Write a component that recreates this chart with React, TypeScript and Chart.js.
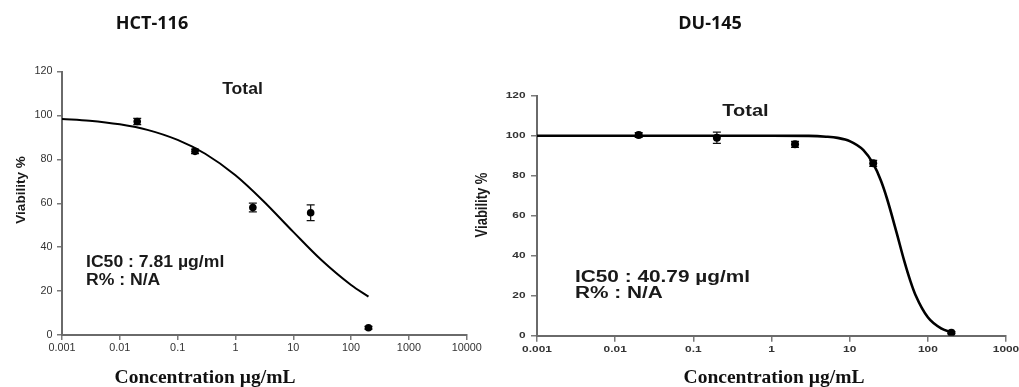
import React, { useEffect, useRef } from 'react';
import { Chart, registerables } from 'chart.js';

Chart.register(...registerables);

// ---------- Data ----------
const Y_TICKS = [0, 20, 40, 60, 80, 100, 120];

// HCT-116
const HCT_X_TICKS = [0.001, 0.01, 0.1, 1, 10, 100, 1000, 10000];
const HCT_X_LABELS = ['0.001', '0.01', '0.1', '1', '10', '100', '1000', '10000'];
const HCT_CONC = [0.02, 0.2, 2, 20, 200];
const HCT_VIAB = [97.3, 83.7, 58.1, 55.7, 3.3];
const HCT_ERR = [1.4, 1.0, 2.0, 3.6, 0.6];
const HCT_FIT_X = [0.001, 0.003, 0.01, 0.03, 0.1, 0.3, 1, 3, 10, 30, 100, 200];
const HCT_FIT_Y = [98.5, 97.7, 96.0, 93.5, 88.9, 82.6, 72.8, 61.2, 47.0, 34.4, 22.8, 17.5];

// DU-145
const DU_X_TICKS = [0.001, 0.01, 0.1, 1, 10, 100, 1000];
const DU_X_LABELS = ['0.001', '0.01', '0.1', '1', '10', '100', '1000'];
const DU_CONC = [0.02, 0.2, 2, 20, 200];
const DU_VIAB = [100.3, 99.0, 95.7, 86.2, 1.5];
const DU_ERR = [1.2, 2.8, 1.5, 1.5, 0.5];
const DU_FIT_X = [0.001, 0.01, 0.1, 1, 3, 5, 7, 10, 15, 20, 25, 30, 40, 50, 60, 70, 100, 150, 200];
const DU_FIT_Y = [100, 100, 100, 100, 99.9, 99.5, 98.9, 97.3, 92.8, 86.0, 77.7, 68.6, 51.3, 37.3, 27.2, 20.1, 9.2, 3.5, 1.7];

// ---------- Layout specs (page coordinates) ----------
const H = 387;

type Spec = {
  canvasLeft: number; canvasWidth: number;
  area: { left: number; right: number; top: number; bottom: number };
  xTicks: number[]; xLabels: string[]; xMax: number;
  conc: number[]; viab: number[]; err: number[]; fitX: number[]; fitY: number[];
  heading: string; headingX: number;
  totalX: number; totalY: number; totalSx: number;
  icText: string; icX: number; icY: number; rY: number; icSx: number;
  xTitleX: number; xTitleY: number;
  yTitleX: number; yTitleY: number; yTitleSize: number; yTitleSx: number;
  tickFont: string; tickSx: number; yLabelRight: number; xLabelY: number; tickLen: number;
  lineWidth: number; pointR: number;
};

const LEFT: Spec = {
  canvasLeft: 0, canvasWidth: 492,
  area: { left: 62, right: 466.7, top: 71.7, bottom: 335 },
  xTicks: HCT_X_TICKS, xLabels: HCT_X_LABELS, xMax: 10000,
  conc: HCT_CONC, viab: HCT_VIAB, err: HCT_ERR, fitX: HCT_FIT_X, fitY: HCT_FIT_Y,
  heading: 'HCT-116', headingX: 152,
  totalX: 242.5, totalY: 94.3, totalSx: 1.1,
  icText: 'IC50 : 7.81 \u00b5g/ml', icX: 86, icY: 266.7, rY: 284.5, icSx: 1.1,
  xTitleX: 205, xTitleY: 382.7,
  yTitleX: 21.7, yTitleY: 190, yTitleSize: 13.5, yTitleSx: 1.0,
  tickFont: '10px "Liberation Sans", Arial, sans-serif', tickSx: 1.08, yLabelRight: 52.5, xLabelY: 348.5, tickLen: 5,
  lineWidth: 2, pointR: 3.8,
};

const RIGHT: Spec = {
  canvasLeft: 462, canvasWidth: 557,
  area: { left: 537, right: 1006, top: 95.7, bottom: 335.7 },
  xTicks: DU_X_TICKS, xLabels: DU_X_LABELS, xMax: 1000,
  conc: DU_CONC, viab: DU_VIAB, err: DU_ERR, fitX: DU_FIT_X, fitY: DU_FIT_Y,
  heading: 'DU-145', headingX: 710,
  totalX: 745.5, totalY: 116, totalSx: 1.25,
  icText: 'IC50 : 40.79 \u00b5g/ml', icX: 575, icY: 281.7, rY: 298.2, icSx: 1.3,
  xTitleX: 774, xTitleY: 383,
  yTitleX: 482, yTitleY: 205, yTitleSize: 13, yTitleSx: 1.3,
  tickFont: 'bold 8.5px "Liberation Sans", Arial, sans-serif', tickSx: 1.4, yLabelRight: 525.5, xLabelY: 350, tickLen: 6,
  lineWidth: 2.6, pointR: 4,
};

function drawText(ctx: CanvasRenderingContext2D, text: string, x: number, y: number, font: string, sx: number, align: CanvasTextAlign, baseline: CanvasTextBaseline, color: string, rotate = 0) {
  ctx.save();
  ctx.translate(x, y);
  ctx.scale(sx, 1);
  if (rotate) ctx.rotate(rotate);
  ctx.font = font;
  ctx.textAlign = align;
  ctx.textBaseline = baseline;
  ctx.fillStyle = color;
  ctx.fillText(text, 0, 0);
  ctx.restore();
}

function Panel({ spec }: { spec: Spec }) {
  const ref = useRef<HTMLCanvasElement | null>(null);
  useEffect(() => {
    const canvas = ref.current;
    if (!canvas) return;
    const off = spec.canvasLeft;
    const a = spec.area;

    const decor = {
      id: 'decor',
      beforeDatasetsDraw(chart: any) {
        const ctx = chart.ctx as CanvasRenderingContext2D;
        const xs = chart.scales.x;
        const ys = chart.scales.y;
        ctx.save();
        ctx.strokeStyle = '#111';
        ctx.lineWidth = 1.2;
        spec.conc.forEach((c, i) => {
          const px = xs.getPixelForValue(c);
          const top = ys.getPixelForValue(spec.viab[i] + spec.err[i]);
          const bot = ys.getPixelForValue(spec.viab[i] - spec.err[i]);
          ctx.beginPath();
          ctx.moveTo(px, top); ctx.lineTo(px, bot);
          ctx.moveTo(px - 4, top); ctx.lineTo(px + 4, top);
          ctx.moveTo(px - 4, bot); ctx.lineTo(px + 4, bot);
          ctx.stroke();
        });
        ctx.restore();
      },
      afterDraw(chart: any) {
        const ctx = chart.ctx as CanvasRenderingContext2D;
        const xs = chart.scales.x;
        const ys = chart.scales.y;
        // tick labels
        spec.xTicks.forEach((v, i) => {
          drawText(ctx, spec.xLabels[i], xs.getPixelForValue(v), spec.xLabelY, spec.tickFont, spec.tickSx, 'center', 'middle', '#333');
        });
        Y_TICKS.forEach((v) => {
          drawText(ctx, String(v), spec.yLabelRight - off, ys.getPixelForValue(v), spec.tickFont, spec.tickSx, 'right', 'middle', '#333');
        });
        // heading
        drawText(ctx, spec.heading, spec.headingX - off, 29, 'bold 18px "Open Sans", sans-serif', 1, 'center', 'alphabetic', '#111');
        // Total
        drawText(ctx, 'Total', spec.totalX - off, spec.totalY, 'bold 16px "Liberation Sans", Arial, sans-serif', spec.totalSx, 'center', 'alphabetic', '#1a1a1a');
        // IC50 / R%
        drawText(ctx, spec.icText, spec.icX - off, spec.icY, 'bold 16px "Liberation Sans", Arial, sans-serif', spec.icSx, 'left', 'alphabetic', '#1a1a1a');
        drawText(ctx, 'R% : N/A', spec.icX - off, spec.rY, 'bold 16px "Liberation Sans", Arial, sans-serif', spec.icSx, 'left', 'alphabetic', '#1a1a1a');
        // axis titles
        drawText(ctx, 'Concentration \u00b5g/mL', spec.xTitleX - off, spec.xTitleY, 'bold 19.5px "Liberation Serif", "Times New Roman", serif', 1, 'center', 'alphabetic', '#111');
        drawText(ctx, 'Viability %', spec.yTitleX - off, spec.yTitleY, `bold ${spec.yTitleSize}px "Liberation Sans", Arial, sans-serif`, spec.yTitleSx, 'center', 'middle', '#1a1a1a', -Math.PI / 2);
      },
    };

    const chart = new Chart(canvas, {
      type: 'scatter',
      data: {
        datasets: [
          {
            type: 'scatter',
            data: spec.conc.map((c, i) => ({ x: c, y: spec.viab[i] })),
            pointRadius: spec.pointR,
            pointBackgroundColor: '#000',
            pointBorderColor: '#000',
            pointBorderWidth: 0,
            showLine: false,
            order: 0,
          } as any,
          {
            type: 'line',
            data: spec.fitX.map((c, i) => ({ x: c, y: spec.fitY[i] })),
            borderColor: '#000',
            borderWidth: spec.lineWidth,
            pointRadius: 0,
            cubicInterpolationMode: 'monotone',
            fill: false,
            order: 1,
          } as any,
        ],
      },
      options: {
        responsive: false,
        animation: false,
        events: [],
        layout: {
          autoPadding: false,
          padding: { left: 0, top: a.top, right: spec.canvasWidth - (a.right - off), bottom: 0 },
        } as any,
        plugins: { legend: { display: false }, tooltip: { enabled: false }, title: { display: false } },
        scales: {
          x: {
            type: 'logarithmic',
            min: 0.001,
            max: spec.xMax,
            afterBuildTicks: (s: any) => { s.ticks = spec.xTicks.map((v) => ({ value: v })); },
            afterFit: (s: any) => { s.height = H - a.bottom; },
            ticks: { display: false },
            grid: { display: true, drawOnChartArea: false, drawTicks: true, tickLength: spec.tickLen, color: '#7a7a7a', lineWidth: 1.5 },
            border: { display: true, color: '#6a6a6a', width: 2 },
          },
          y: {
            type: 'linear',
            min: 0,
            max: 120,
            afterBuildTicks: (s: any) => { s.ticks = Y_TICKS.map((v) => ({ value: v })); },
            afterFit: (s: any) => { s.width = a.left - off; },
            ticks: { display: false },
            grid: { display: true, drawOnChartArea: false, drawTicks: true, tickLength: spec.tickLen, color: '#7a7a7a', lineWidth: 1.5 },
            border: { display: true, color: '#6a6a6a', width: 2 },
          },
        },
      } as any,
      plugins: [decor],
    });
    return () => chart.destroy();
  }, [spec]);

  return (
    <canvas
      ref={ref}
      width={spec.canvasWidth}
      height={H}
      style={{ position: 'absolute', left: spec.canvasLeft, top: 0, width: spec.canvasWidth, height: H }}
    />
  );
}

export default function App() {
  return (
    <div style={{ position: 'absolute', left: 0, top: 0, width: 1019, height: H, background: '#fff', overflow: 'hidden' }}>
      <Panel spec={LEFT} />
      <Panel spec={RIGHT} />
    </div>
  );
}
